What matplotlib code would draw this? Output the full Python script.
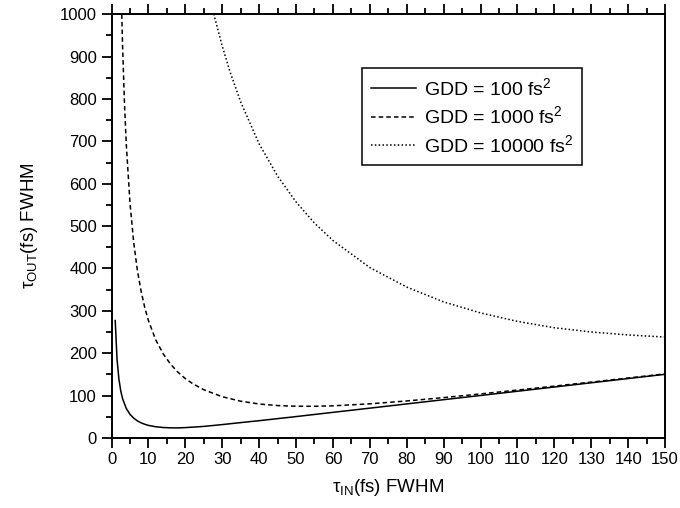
import matplotlib
matplotlib.use("Agg")
from matplotlib import pyplot as plt
from matplotlib.ticker import MultipleLocator

plt.rcParams["font.family"] = ["Liberation Sans", "DejaVu Sans"]
plt.rcParams["mathtext.fontset"] = "custom"
plt.rcParams["mathtext.rm"] = "Liberation Sans"
plt.rcParams["mathtext.it"] = "Liberation Sans"

# values
tau_in_100 = [1, 1.5, 2, 2.5, 3, 4, 5, 6, 7, 8, 9, 10, 12, 14, 16, 18, 20, 25, 30, 35,
              40, 50, 60, 70, 80, 90, 100, 110, 120, 130, 140, 150]
tau_out_100 = [277, 185, 139, 111, 92.5, 69.4, 55.7, 46.6, 40.2, 35.6, 32.2, 29.5, 26.3,
               24.5, 23.7, 23.6, 24.3, 27.1, 31.4, 36.1, 40.6, 50.3, 60.3, 70.2, 80.2,
               90.2, 100.1, 110.1, 120.1, 130.1, 140.1, 150.1]

tau_in_1000 = [2.5, 2.8, 3, 3.5, 4, 5, 6, 7, 8, 9, 10, 12, 14, 16, 18, 20, 22, 25, 30,
               35, 40, 45, 50, 55, 60, 70, 80, 90, 100, 110, 120, 130, 140, 150]
tau_out_1000 = [1109, 990, 924, 792, 693, 555, 462, 396, 347, 308, 277, 231, 198.5, 174,
                155, 140, 128, 113.7, 97.2, 86.6, 80.0, 76.3, 74.7, 74.6, 75.7, 80.4,
                87.2, 95.1, 103.8, 112.9, 122.2, 131.7, 141.4, 151.1]

tau_in_10000 = [27, 28, 30, 32, 35, 40, 45, 50, 55, 60, 70, 80, 90, 100, 110, 120, 130,
                140, 150]
tau_out_10000 = [1027, 991, 925, 867, 793, 694, 618, 557, 507, 466, 402, 356, 321, 295,
                 275, 260, 250, 243, 238]

labels = ["GDD = 100 fs$^2$", "GDD = 1000 fs$^2$", "GDD = 10000 fs$^2$"]

fig = plt.figure(figsize=(6.8, 5.08), dpi=100)
ax = fig.add_axes([0.164, 0.138, 0.814, 0.834])

ax.plot(tau_in_100, tau_out_100, color="black", lw=1.1, ls="-", label=labels[0])
ax.plot(tau_in_1000, tau_out_1000, color="black", lw=1.1, ls=(0, (3, 2)), label=labels[1])
ax.plot(tau_in_10000, tau_out_10000, color="black", lw=1.1, ls=(0, (1, 1.5)), label=labels[2])

ax.set_xlim(0, 150)
ax.set_ylim(0, 1000)
ax.xaxis.set_major_locator(MultipleLocator(10))
ax.xaxis.set_minor_locator(MultipleLocator(5))
ax.yaxis.set_major_locator(MultipleLocator(100))
ax.yaxis.set_minor_locator(MultipleLocator(50))
ax.tick_params(which="both", direction="out", top=True, right=False, labelsize=12, width=1.3)
ax.tick_params(which="major", length=7)
ax.tick_params(which="minor", length=4)
for s in ax.spines.values():
    s.set_linewidth(1.4)

ax.set_xlabel(r"$\tau_{\rm IN}$(fs) FWHM", fontsize=13.5, labelpad=7)
ax.set_ylabel(r"$\tau_{\rm OUT}$(fs) FWHM", fontsize=13.5, labelpad=14)

leg = ax.legend(loc="upper left", bbox_to_anchor=(0.453, 0.873), fontsize=14,
                frameon=True, fancybox=False, edgecolor="black", framealpha=1,
                handlelength=2.3, handletextpad=0.4, borderpad=0.45, labelspacing=0.35,
                borderaxespad=0)
leg.get_frame().set_linewidth(1.1)

fig.savefig("out.png", dpi=100)
